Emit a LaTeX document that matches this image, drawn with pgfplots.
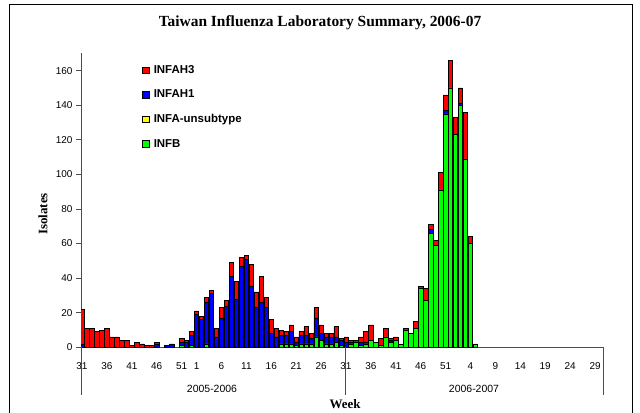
\documentclass[border=0pt]{standalone}
\usepackage{pgfplots}
\pgfplotsset{compat=1.18}
\usepackage{pgfplotstable}
\usepackage{fontspec}
\setmainfont{Liberation Sans}
\newfontfamily\serifb{Liberation Serif}
\definecolor{cH3}{RGB}{255,0,0}
\definecolor{cH1}{RGB}{0,0,255}
\definecolor{cU}{RGB}{255,255,0}
\definecolor{cB}{RGB}{0,255,0}
\pgfplotsset{sqlegend/.style={legend image code/.code={\draw[##1] (0bp,-3.2bp) rectangle (6.4bp,3.2bp);}}}

\pgfplotstableread{
i B U H1 H3
0 0 0 2 20
1 0 0 0 11
2 0 0 0 11
3 0 0 0 9
4 0 0 0 10
5 0 0 0 11
6 0 0 0 6
7 0 0 0 6
8 0 0 0 4
9 0 0 0 4
10 0 0 0 1
11 0 0 0 3
12 0 0 0 2
13 0 0 0 1
14 0 0 0 1
15 0 0 2 1
16 0 0 0 0
17 0 0 1 0
18 0 0 2 0
19 0 0 0 0
20 1 0 2 2
21 0 0 3 1
22 1 0 6 2
23 0 0 19 2
24 0 0 16 2
25 2 0 24 3
26 0 0 31 2
27 0 0 6 5
28 0 0 17 6
29 0 0 24 3
30 0 0 41 8
31 0 0 28 10
32 0 0 47 5
33 0 0 51 2
34 0 0 35 13
35 0 0 23 9
36 0 0 26 15
37 0 0 23 6
38 0 0 8 8
39 0 0 6 5
40 2 0 5 3
41 2 0 5 2
42 2 0 7 4
43 1 0 2 3
44 2 0 5 2
45 2 0 5 5
46 2 0 3 3
47 6 0 11 6
48 4 0 4 5
49 2 0 4 2
50 2 0 4 2
51 3 0 3 6
52 1 0 3 1
53 0 0 3 3
54 2 0 1 1
55 3 0 0 1
56 1 0 2 3
57 2 0 1 6
58 4 0 0 9
59 3 0 0 0
60 1 0 0 4
61 6 0 0 5
62 3 0 1 1
63 4 0 0 2
64 2 0 0 0
65 10 0 0 1
66 8 0 0 0
67 11 0 0 4
68 34 0 0 1
69 27 0 0 7
70 66 0 2 3
71 59 0 0 3
72 91 0 0 10
73 135 0 2 9
74 150 0 0 16
75 123 0 0 10
76 140 0 1 9
77 109 0 0 27
78 60 0 0 4
79 2 0 0 0
}\datatable

\begin{document}
\begin{tikzpicture}[x=1bp,y=1bp]
\useasboundingbox (0,0) rectangle (640,-412);
\draw[black, line width=0.9bp] (9.5,-420) -- (9.5,-4.5) -- (632.5,-4.5) -- (632.5,-420);
\begin{axis}[
  at={(81bp,-347.3bp)}, anchor=south west,
  scale only axis, width=522bp, height=294bp,
  xmin=-0.2, xmax=104.6, ymin=0, ymax=170,
  ybar stacked, bar width=0.88,
  axis lines=left, axis line style={-, line width=0.8bp, black!70},
  ytick={0,20,...,160}, tick align=outside, major tick length=5bp,
  y tick style={line width=0.8bp, black!70},
  xtick={0,5,10,15,20,23,28,33,38,43,48,53,58,63,68,73,78,83,88,93,98,103},
  xticklabels={31,36,41,46,51,1,6,11,16,21,26,31,36,41,46,51,4,9,14,19,24,29},
  x tick style={draw=none},
  tick label style={font=\fontsize{10}{12}\selectfont},
  /pgf/number format/assume math mode=true,
  xticklabel style={yshift=-7bp},
  reverse legend,
  legend cell align=left,
  legend style={at={(axis description cs:0.117,0.966)}, anchor=north west, draw=none, fill=none,
    font=\bfseries\fontsize{11.5}{13}\selectfont, row sep=11bp, inner sep=0pt,
    nodes={inner xsep=4.5bp}},
]
\addplot[fill=cB, draw=black, line width=0.6bp, sqlegend] table[x=i, y=B] {\datatable};
\addplot[fill=cU, draw=black, line width=0.6bp, sqlegend] table[x=i, y=U] {\datatable};
\addplot[fill=cH1, draw=black, line width=0.6bp, sqlegend] table[x=i, y=H1] {\datatable};
\addplot[fill=cH3, draw=black, line width=0.6bp, sqlegend] table[x=i, y=H3] {\datatable};
\legend{INFB,INFA-unsubtype,INFAH1,INFAH3}
\end{axis}
\node at (320,-23) {\serifb\bfseries\fontsize{15.5}{18}\selectfont Taiwan Influenza Laboratory Summary, 2006-07};
\node[rotate=90] at (43,-214) {\serifb\bfseries\fontsize{13}{15}\selectfont Isolates};
\node at (345,-404) {\serifb\bfseries\fontsize{13}{15}\selectfont Week};
\node at (212,-389) {\fontsize{10.5}{12}\selectfont 2005-2006};
\node at (474,-389) {\fontsize{10.5}{12}\selectfont 2006-2007};
\foreach \xx in {81,345,603} \draw[line width=0.8bp, black!70] (\xx,-347.3) -- (\xx,-395);
\end{tikzpicture}
\end{document}
